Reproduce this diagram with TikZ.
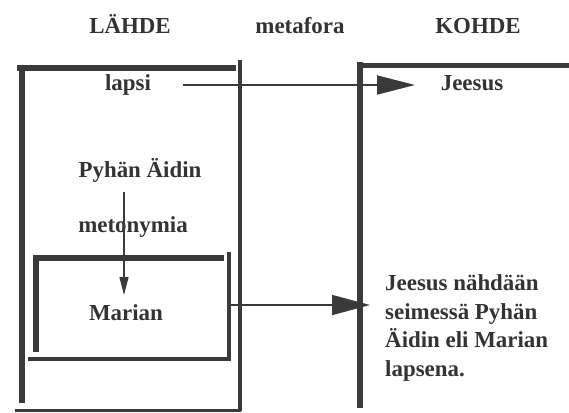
\documentclass[tikz,border=0pt]{standalone}
\usepackage{fontspec}
\setmainfont{Liberation Serif}
\usetikzlibrary{arrows.meta}
\definecolor{ink}{HTML}{3A3A3A}
\definecolor{txt}{HTML}{333333}
\tikzset{
  lbl/.style={font=\fontsize{23}{29}\selectfont\bfseries, text=txt, inner sep=0pt, anchor=base},
  heavy/.style={draw=ink, line width=6bp},
  light/.style={draw=ink, line width=3.5bp},
  bigarrow/.style={draw=ink, line width=1.6bp, -{Triangle[length=38bp, width=19bp]}},
  smallarrow/.style={draw=ink, line width=1.2bp, -{Triangle[length=18bp, width=9bp]}}
}
\begin{document}
\begin{tikzpicture}[x=1bp, y=-1bp]
\useasboundingbox (0,0) rectangle (569,412);
\fill[white] (0,0) rectangle (569,412);

% headings
\node[lbl] (lahde) at (130,33) {LÄHDE};
\node[lbl] (meta) at (300,33) {metafora};
\node[lbl] (kohde) at (478,33) {KOHDE};

% source domain frame
\draw[heavy] (17,68) -- (236,68);
\draw[heavy] (21.5,65) -- (21.5,403);
\draw[light] (240,60) -- (240,411);
\draw[light, line width=3bp] (15,410) -- (241,410);

% inner frame round Marian
\draw[heavy] (33,258) -- (224,258);
\draw[heavy] (36,255) -- (36,352);
\draw[light] (229,252) -- (229,360);
\draw[light] (28,359) -- (231,359);

% target domain frame
\draw[heavy] (360,62) -- (360,408);
\draw[heavy, line width=5bp] (357,65) -- (569,65);

% texts
\node[lbl] (lapsi) at (128,90) {lapsi};
\node[lbl] (jeesus) at (472,90) {Jeesus};
\node[lbl] (pyhan) at (140,177) {Pyhän Äidin};
\node[lbl] (meton) at (133,232) {metonymia};
\node[lbl] (marian) at (126,320) {Marian};
\node[lbl, anchor=north west, align=left] (result) at (385,274)
  {Jeesus nähdään\\seimessä Pyhän\\Äidin eli Marian\\lapsena.};

% connectors
\coordinate (a1) at (183,85);
\coordinate (a2) at (415,85);
\coordinate (b1) at (230,305);
\coordinate (b2) at (370,305);
\coordinate (c1) at (124,192);
\coordinate (c2) at (124,295);
\draw[bigarrow] (a1) -- (a2);
\draw[bigarrow, -{Triangle[length=38bp, width=20bp]}] (b1) -- (b2);
\draw[smallarrow] (c1) -- (c2);
\end{tikzpicture}
\end{document}
